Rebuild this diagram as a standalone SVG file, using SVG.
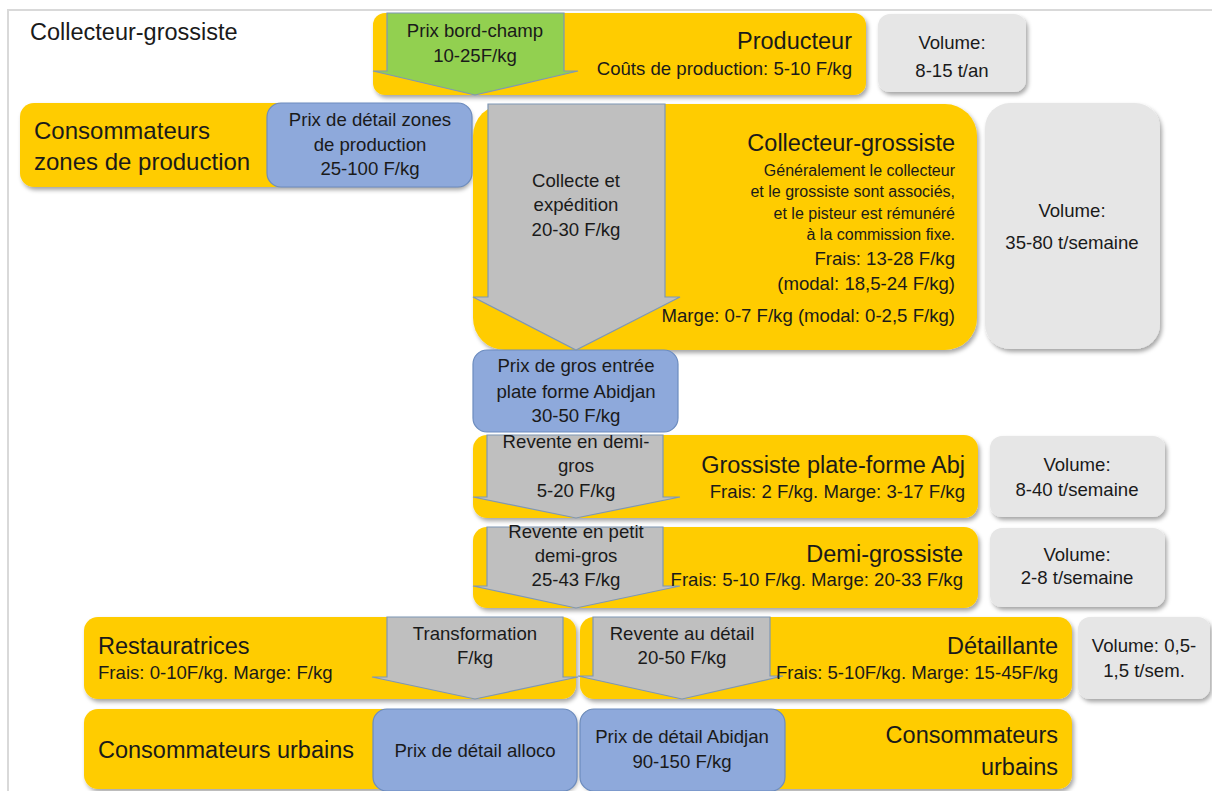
<svg xmlns="http://www.w3.org/2000/svg" width="1212" height="791" viewBox="0 0 1212 791">
<defs>
<filter id="sh" x="-10%" y="-10%" width="130%" height="140%">
<feDropShadow dx="2" dy="3" stdDeviation="2" flood-color="#000" flood-opacity="0.35"/>
</filter>
<style>
text{font-family:"Liberation Sans",Arial,sans-serif;fill:#1a1a1a;}
.h{font-size:23.5px;}
.b{font-size:18.6px;}
.s{font-size:16px;}
.m{text-anchor:middle;}
.r{text-anchor:end;}
.y{fill:#FFCC00;filter:url(#sh);}
.v{fill:#E6E6E6;filter:url(#sh);}
.bl{fill:#8EA9DB;stroke:#6C8CBF;stroke-width:1.2;}
.ga{fill:#BFBFBF;stroke:#7F97B5;stroke-width:1.2;}
.gr{fill:#92D050;stroke:#7F97B5;stroke-width:1.2;}
</style>
</defs>
<rect width="1212" height="791" fill="#fff"/>
<path d="M8 791 V10 H1212" fill="none" stroke="#D9D9D9" stroke-width="2"/>
<text class="h" x="30" y="40">Collecteur-grossiste</text>

<g id="producteur">
<rect class="y" x="373" y="13" width="493" height="82" rx="12"/>
<text class="h r" x="852" y="49">Producteur</text>
<text class="b r" x="852" y="75">Coûts de production: 5-10 F/kg</text>
</g>
<g id="vol-producteur">
<rect class="v" x="878" y="14" width="148" height="78" rx="12"/>
<text class="b m" x="952" y="49">Volume:</text>
<text class="b m" x="952" y="77">8-15 t/an</text>
</g>

<g id="conso-zones">
<rect class="y" x="20" y="103" width="450" height="84" rx="14"/>
<text class="h" x="34" y="139" style="font-size:24px">Consommateurs</text>
<text class="h" x="34" y="170" style="font-size:24px">zones de production</text>
</g>
<g id="prix-zones">
<rect class="bl" x="267" y="103" width="205" height="84" rx="14"/>
<text class="b m" x="370" y="126">Prix de détail zones</text>
<text class="b m" x="370" y="151">de production</text>
<text class="b m" x="370" y="175">25-100 F/kg</text>
</g>

<g id="collecteur">
<rect class="y" x="473" y="104" width="504" height="246" rx="32"/>
<text class="h r" x="955" y="151">Collecteur-grossiste</text>
<text class="s r" x="955" y="175.5">Généralement  le collecteur</text>
<text class="s r" x="955" y="196.5">et le grossiste sont associés,</text>
<text class="s r" x="955" y="218.5">et le pisteur est rémunéré</text>
<text class="s r" x="955" y="239.5">à la commission  fixe.</text>
<text class="b r" x="955" y="265">Frais: 13-28 F/kg</text>
<text class="b r" x="955" y="290">(modal: 18,5-24 F/kg)</text>
<text class="b r" x="955" y="322">Marge: 0-7 F/kg (modal: 0-2,5 F/kg)</text>
</g>
<g id="vol-collecteur">
<rect class="v" x="985" y="103" width="175" height="246" rx="25"/>
<text class="b m" x="1072" y="217">Volume:</text>
<text class="b m" x="1072" y="249">35-80 t/semaine</text>
</g>

<g id="prix-gros">
<rect class="bl" x="473" y="350" width="205" height="82" rx="14"/>
<text class="b m" x="576" y="372">Prix de gros entrée</text>
<text class="b m" x="576" y="398">plate forme Abidjan</text>
<text class="b m" x="576" y="422">30-50 F/kg</text>
</g>

<g id="grossiste-abj">
<rect class="y" x="473" y="435" width="505" height="83" rx="14"/>
<text class="h r" x="965" y="473">Grossiste plate-forme Abj</text>
<text class="b r" x="965" y="498">Frais: 2 F/kg. Marge: 3-17 F/kg</text>
</g>
<g id="vol-grossiste">
<rect class="v" x="990" y="436" width="175" height="81" rx="12"/>
<text class="b m" x="1077" y="471">Volume:</text>
<text class="b m" x="1077" y="496">8-40 t/semaine</text>
</g>

<g id="demi-grossiste">
<rect class="y" x="473" y="527" width="505" height="81" rx="14"/>
<text class="h r" x="963" y="562">Demi-grossiste</text>
</g>
<g id="vol-demi">
<rect class="v" x="990" y="528" width="175" height="79" rx="12"/>
<text class="b m" x="1077" y="561">Volume:</text>
<text class="b m" x="1077" y="584">2-8 t/semaine</text>
</g>

<g id="restauratrices">
<rect class="y" x="84" y="617" width="492" height="82" rx="14"/>
<text class="h" x="98" y="654">Restauratrices</text>
<text class="b" x="98" y="679">Frais: 0-10F/kg. Marge: F/kg</text>
</g>

<g id="detaillante">
<rect class="y" x="580" y="617" width="492" height="82" rx="14"/>
<text class="h r" x="1058" y="654">Détaillante</text>
</g>
<g id="vol-detaillante">
<rect class="v" x="1078" y="617" width="132" height="82" rx="12"/>
<text class="b m" x="1144" y="652">Volume: 0,5-</text>
<text class="b m" x="1144" y="677">1,5 t/sem.</text>
</g>

<g id="conso-urbains-1">
<rect class="y" x="84" y="709" width="492" height="80" rx="14"/>
<text class="h" x="98" y="758">Consommateurs urbains</text>
</g>
<g id="prix-alloco">
<rect class="bl" x="373" y="709" width="204" height="82" rx="14"/>
<text class="b m" x="475" y="757">Prix de détail alloco</text>
</g>

<g id="conso-urbains-2">
<rect class="y" x="580" y="709" width="492" height="80" rx="14"/>
<text class="h r" x="1058" y="743">Consommateurs</text>
<text class="h r" x="1058" y="775">urbains</text>
</g>
<g id="prix-abidjan">
<rect class="bl" x="580" y="709" width="205" height="82" rx="14"/>
<text class="b m" x="682" y="743">Prix de détail Abidjan</text>
<text class="b m" x="682" y="768">90-150 F/kg</text>
</g>

<g id="connectors">
<g id="arrow-bord-champ">
<path class="gr" d="M387 13 H564 V71 H578 L475 95 L373 71 H387 Z"/>
<text class="b m" x="475" y="37">Prix bord-champ</text>
<text class="b m" x="475" y="62">10-25F/kg</text>
</g>
<g id="arrow-collecte">
<path class="ga" d="M488 104 H665 V297 H680 L576 350 L473 297 H488 Z"/>
<text class="b m" x="576" y="187">Collecte et</text>
<text class="b m" x="576" y="211">expédition</text>
<text class="b m" x="576" y="236">20-30 F/kg</text>
</g>
<g id="arrow-demi-gros">
<path class="ga" d="M487 435 H663 V497 H680 L576 518 L473 497 H487 Z"/>
<text class="b m" x="576" y="448">Revente en demi-</text>
<text class="b m" x="576" y="472">gros</text>
<text class="b m" x="576" y="497">5-20 F/kg</text>
</g>
<g id="arrow-petit-demi-gros">
<path class="ga" d="M487 527 H663 V586 H680 L576 608 L473 586 H487 Z"/>
<text class="b m" x="576" y="538">Revente en petit</text>
<text class="b m" x="576" y="562">demi-gros</text>
<text class="b m" x="576" y="586">25-43 F/kg</text>
</g>
<g id="arrow-transformation">
<path class="ga" d="M387 617 H563 V677 H578 L475 699 L372 677 H387 Z"/>
<text class="b m" x="475" y="640">Transformation</text>
<text class="b m" x="475" y="664">F/kg</text>
</g>
<g id="arrow-detail">
<path class="ga" d="M593 617 H770 V676 H783 L682 699 L578 676 H593 Z"/>
<text class="b m" x="682" y="640">Revente au détail</text>
<text class="b m" x="682" y="664">20-50 F/kg</text>
</g>
</g>
<text class="b r" x="963" y="586">Frais: 5-10 F/kg. Marge: 20-33 F/kg</text>
<text class="b r" x="1058" y="679">Frais: 5-10F/kg. Marge: 15-45F/kg</text>
</svg>
